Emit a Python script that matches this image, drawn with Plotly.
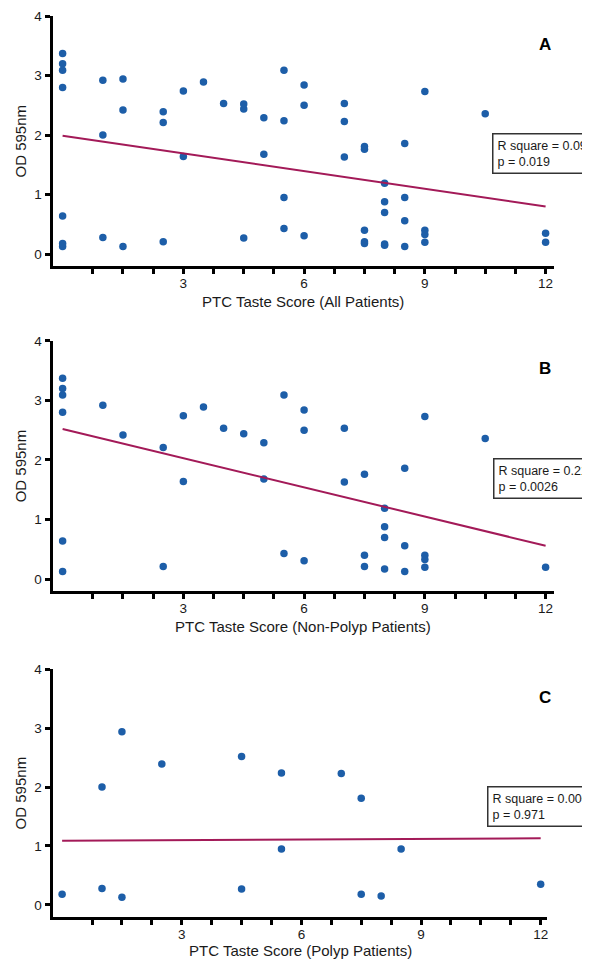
import plotly.graph_objects as go

# ---------------- data ----------------
# Non-polyp patients (panel B)
nonpolyp_x = [0, 0, 0, 0, 0, 0, 1, 1.5, 2.5, 2.5, 3, 3, 3.5, 4, 4.5, 5, 5, 5.5, 5.5,
              6, 6, 6, 7, 7, 7.5, 7.5, 7.5, 8, 8, 8, 8, 8.5, 8.5, 8.5,
              9, 9, 9, 9, 10.5, 12]
nonpolyp_y = [3.37, 3.20, 3.09, 2.80, 0.64, 0.13, 2.92, 2.42, 2.21, 0.21, 2.74, 1.64, 2.89, 2.53,
              2.44, 2.29, 1.68, 3.09, 0.43, 2.84, 2.50, 0.31, 2.53, 1.63, 1.76, 0.40, 0.21,
              1.19, 0.88, 0.70, 0.17, 1.86, 0.56, 0.13, 2.73, 0.40, 0.33, 0.20, 2.36, 0.20]

# Polyp patients (panel C)
polyp_x = [0, 1, 1, 1.5, 1.5, 2.5, 4.5, 4.5, 5.5, 5.5, 7, 7.5, 7.5, 8, 8.5, 12]
polyp_y = [0.18, 2.00, 0.28, 2.94, 0.13, 2.39, 2.52, 0.27, 2.24, 0.95, 2.23, 1.81, 0.18, 0.15, 0.95, 0.35]

# All patients (panel A) = both groups
all_x = nonpolyp_x + polyp_x
all_y = nonpolyp_y + polyp_y

# Regression lines (end points)
fit_x = [0, 12]
fit_all = [1.99, 0.80]
fit_nonpolyp = [2.52, 0.56]
fit_polyp = [1.09, 1.13]

panel_letters = ["A", "B", "C"]
x_titles = ["PTC Taste Score (All Patients)",
            "PTC Taste Score (Non-Polyp Patients)",
            "PTC Taste Score (Polyp Patients)"]
stats_text = ["R square = 0.0903<br>p = 0.019",
              "R square = 0.2144<br>p = 0.0026",
              "R square = 0.0001<br>p = 0.971"]
y_title = "OD 595nm"

x_tick_vals = [0.75 * i for i in range(1, 17)]
x_tick_text = [("%g" % v) if v % 3 == 0 else "" for v in x_tick_vals]
y_tick_vals = [0, 1, 2, 3, 4]
y_tick_text = ["0", "1", "2", "3", "4"]

# ---------------- layout geometry (pixels of the page) ----------------
W, H = 590, 963
FONT = "Liberation Sans, Arial, Helvetica, sans-serif"
DOT = "#1d5ea8"
LINE = "#a31a58"
TXT = "#1a1a1a"


def px(x):
    # page x -> paper fraction (page offset of the figure ~7.5 px)
    return (x - 7.5) / W


def py(y):
    # page y -> paper fraction (measured page offset / scale)
    return 1 - ((y - 16.0) / 0.9925) / H


# (left, right, top, bottom) in page px for each plot area
panels = [
    (53, 555, 17.0, 267.0, [-0.23, 12.2]),
    (53, 555, 341.7, 591.9, [-0.23, 12.2]),
    (53, 548, 670.0, 917.5, [-0.22, 12.15]),
]
title_y = [302, 627.5, 951.5]

series = [(all_x, all_y, fit_all), (nonpolyp_x, nonpolyp_y, fit_nonpolyp), (polyp_x, polyp_y, fit_polyp)]

fig = go.Figure()
annotations = []
layout_axes = {}

for i, ((l, r, t, b, xr), (sx, sy, fy)) in enumerate(zip(panels, series)):
    n = "" if i == 0 else str(i + 1)
    xa, ya = "x" + n, "y" + n
    fig.add_trace(go.Scatter(x=sx, y=sy, mode="markers", xaxis=xa, yaxis=ya,
                             marker=dict(color=DOT, size=7.5), showlegend=False))
    fig.add_trace(go.Scatter(x=fit_x, y=fy, mode="lines", xaxis=xa, yaxis=ya,
                             line=dict(color=LINE, width=2), showlegend=False))
    common = dict(showline=True, linecolor="black", linewidth=3, ticks="outside",
                  ticklen=5, tickwidth=2.5, tickcolor="black", showgrid=False, zeroline=False,
                  tickfont=dict(family=FONT, size=13.5, color=TXT))
    layout_axes["xaxis" + n] = dict(domain=[px(l), px(r)], anchor=ya, range=xr,
                                    tickmode="array", tickvals=x_tick_vals, ticktext=x_tick_text,
                                    ticklabelstandoff=-2, **common)
    layout_axes["yaxis" + n] = dict(domain=[py(b), py(t)], anchor=xa, range=[-0.2, 4],
                                    tickmode="array", tickvals=y_tick_vals, ticktext=y_tick_text,
                                    ticklabelstandoff=1, **common)
    # panel letter
    annotations.append(dict(text="<b>%s</b>" % panel_letters[i], x=px(546.7), y=py(t + 28),
                            xref="paper", yref="paper", showarrow=False,
                            font=dict(family=FONT, size=17, color="black"),
                            xanchor="center", yanchor="middle"))
    # x title
    annotations.append(dict(text=x_titles[i], x=px((l + r) / 2), y=py(title_y[i]),
                            xref="paper", yref="paper", showarrow=False,
                            font=dict(family=FONT, size=15, color=TXT),
                            xanchor="center", yanchor="middle"))
    # y title
    annotations.append(dict(text=y_title, x=px(20), y=py((t + b) / 2), textangle=-90,
                            xref="paper", yref="paper", showarrow=False,
                            font=dict(family=FONT, size=15, color=TXT),
                            xanchor="center", yanchor="middle"))

# stats boxes
box_pos = [(493, 134), (494, 459), (488, 787)]
for (bx, by), txt in zip(box_pos, stats_text):
    annotations.append(dict(text=txt, x=px(bx), y=py(by), xref="paper", yref="paper",
                            showarrow=False, align="left", xanchor="left", yanchor="top",
                            bordercolor="#333333", borderwidth=1.5, borderpad=4,
                            bgcolor="white", font=dict(family=FONT, size=12.5, color=TXT)))

fig.update_layout(width=W, height=H, margin=dict(l=0, r=0, t=0, b=0),
                  paper_bgcolor="white", plot_bgcolor="white",
                  annotations=annotations, **layout_axes)

fig.write_html("out.html")
